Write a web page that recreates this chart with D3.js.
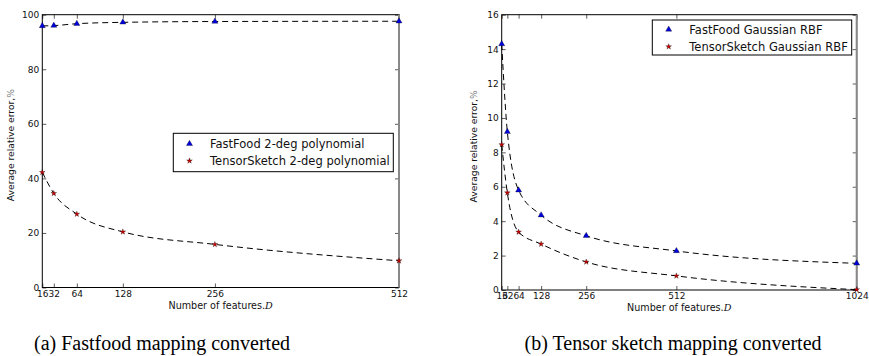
<!DOCTYPE html>
<html><head><meta charset="utf-8">
<script src="https://cdn.jsdelivr.net/npm/d3@7"></script>
<style>body{margin:0;background:#fff}svg{display:block}</style>
</head><body>
<svg id="c" width="869" height="356"></svg>
<script>
// ---- data ----
const featuresA = [16, 32, 64, 128, 256, 512];
const fastfoodA = [95.9, 96.0, 96.7, 97.2, 97.5, 97.6];
const tensorA = [42.2, 34.5, 26.9, 20.4, 15.8, 9.8];
const xTicksA = [16, 32, 64, 128, 256, 512];
const yTicksA = [0, 20, 40, 60, 80, 100];
const legendA = ["FastFood 2-deg polynomial", "TensorSketch 2-deg polynomial"];

const featuresB = [16, 32, 64, 128, 256, 512, 1024];
const fastfoodB = [14.3, 9.2, 5.8, 4.35, 3.15, 2.27, 1.55];
const tensorB = [8.45, 5.65, 3.37, 2.67, 1.63, 0.82, 0.02];
const xTicksB = [16, 32, 64, 128, 256, 512, 1024];
const yTicksB = [0, 2, 4, 6, 8, 10, 12, 14, 16];
const legendB = ["FastFood Gaussian RBF", "TensorSketch Gaussian RBF"];

const captions = ["(a) Fastfood mapping converted", "(b) Tensor sketch mapping converted"];
const xLabel = "Number of features.";
const yLabel = "Average relative error,";

const svg = d3.select("#c");

function panel(cfg) {
  const g = svg.append("g");
  const x = d3.scaleLinear().domain(cfg.xDomain).range([cfg.left, cfg.right]);
  const y = d3.scaleLinear().domain(cfg.yDomain).range([cfg.bottom, cfg.top]);
  const tickCol = "#333";
  const ax = [
    d3.axisBottom(x).tickValues(cfg.xTicks).tickSize(-4).tickPadding(3).tickFormat(d3.format("d")),
    d3.axisTop(x).tickValues(cfg.xTicks).tickSize(-4).tickFormat(""),
    d3.axisLeft(y).tickValues(cfg.yTicks).tickSize(-4).tickPadding(3).tickFormat(d3.format("d")),
    d3.axisRight(y).tickValues(cfg.yTicks).tickSize(-4).tickFormat("")
  ];
  const tr = [`translate(0,${cfg.bottom})`, `translate(0,${cfg.top})`, `translate(${cfg.left},0)`, `translate(${cfg.right},0)`];
  ax.forEach((a, i) => {
    const ag = g.append("g").attr("transform", tr[i]).call(a);
    ag.select(".domain").remove();
    ag.selectAll(".tick line").attr("stroke", tickCol).attr("stroke-width", 0.8);
    ag.selectAll(".tick text").attr("font-family", "DejaVu Sans").attr("font-size", 9).attr("fill", "#111");
  });
  g.append("rect").attr("x", cfg.left).attr("y", cfg.top).attr("width", cfg.right - cfg.left).attr("height", cfg.bottom - cfg.top)
    .attr("fill", "none").attr("stroke", "#000").attr("stroke-width", 1);
  g.append("line").attr("x1", cfg.right).attr("x2", cfg.right).attr("y1", cfg.top).attr("y2", cfg.bottom)
    .attr("stroke", "#888").attr("stroke-width", 2);

  const line = d3.line().x(d => x(d[0])).y(d => y(d[1])).curve(d3.curveMonotoneX);
  cfg.series.forEach(s => {
    const pts = cfg.xs.map((v, i) => [v, s.values[i]]);
    g.append("path").attr("d", line(pts)).attr("fill", "none").attr("stroke", "#000")
      .attr("stroke-width", 1).attr("stroke-dasharray", "6,4");
  });
  cfg.series.forEach(s => {
    const pts = cfg.xs.map((v, i) => [v, s.values[i]]);
    g.selectAll(null).data(pts).enter().append("path")
      .attr("transform", d => `translate(${x(d[0])},${y(d[1])})`)
      .attr("d", d3.symbol().type(s.sym).size(s.size))
      .attr("fill", s.color).attr("stroke", "#000").attr("stroke-width", 0.3);
  });
  const L = cfg.legend;
  g.append("rect").attr("x", L.x).attr("y", L.y).attr("width", L.w).attr("height", L.h)
    .attr("fill", "#fff").attr("stroke", "#000").attr("stroke-width", 1);
  cfg.series.forEach((s, i) => {
    const yy = L.y + L.first + i * L.step;
    g.append("path").attr("transform", `translate(${L.mx},${yy})`)
      .attr("d", d3.symbol().type(s.sym).size(s.size)).attr("fill", s.color).attr("stroke", "#000").attr("stroke-width", 0.3);
    g.append("text").attr("x", L.tx).attr("y", yy).attr("dy", "0.35em")
      .attr("font-family", "DejaVu Sans").attr("font-size", 11.5).attr("fill", "#111").text(s.name);
  });
  const xl = g.append("text").attr("x", (cfg.left + cfg.right) / 2).attr("y", cfg.xLabelY)
    .attr("text-anchor", "middle").attr("font-family", "DejaVu Sans").attr("font-size", 9.6).attr("fill", "#111");
  xl.append("tspan").text(xLabel);
  xl.append("tspan").attr("font-family", "DejaVu Serif").attr("font-style", "italic").text("D");
  const yl = g.append("text").attr("transform", `translate(${cfg.yLabelX},${(cfg.top + cfg.bottom) / 2 - 6}) rotate(-90)`)
    .attr("text-anchor", "middle").attr("font-family", "DejaVu Sans").attr("font-size", 9.2).attr("fill", "#111");
  yl.append("tspan").text(yLabel);
  yl.append("tspan").attr("fill", "#777").text("%");
  svg.append("text").attr("x", cfg.capX).attr("y", 350).attr("text-anchor", "middle")
    .attr("font-family", "Liberation Serif").attr("font-size", 20).attr("fill", "#000").text(cfg.caption);
}

const tri = d3.symbolTriangle, star = d3.symbolStar;

panel({
  left: 42.3, right: 399, top: 14.7, bottom: 287.5,
  xDomain: [16, 512], yDomain: [0, 100], xTicks: xTicksA, yTicks: yTicksA, xs: featuresA,
  series: [
    {name: legendA[0], values: fastfoodA, sym: tri, color: "#0000dd", size: 16},
    {name: legendA[1], values: tensorA, sym: star, color: "#cc0000", size: 10}
  ],
  legend: {x: 173.3, y: 133.3, w: 220, h: 38.4, first: 10.5, step: 17, mx: 189.5, tx: 210},
  xLabelY: 309, yLabelX: 14, capX: 162, caption: captions[0]
});

panel({
  left: 501.7, right: 856.7, top: 14.7, bottom: 290,
  xDomain: [16, 1024], yDomain: [0, 16], xTicks: xTicksB, yTicks: yTicksB, xs: featuresB,
  series: [
    {name: legendB[0], values: fastfoodB, sym: tri, color: "#0000dd", size: 16},
    {name: legendB[1], values: tensorB, sym: star, color: "#cc0000", size: 10}
  ],
  legend: {x: 652.3, y: 20, w: 199.4, h: 35, first: 9.5, step: 17.2, mx: 668.7, tx: 689.3},
  xLabelY: 311, yLabelX: 477, capX: 673, caption: captions[1]
});
</script>
</body></html>
